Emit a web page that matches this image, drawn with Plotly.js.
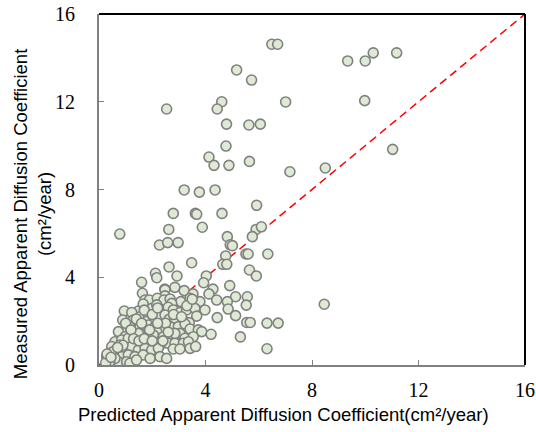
<!DOCTYPE html>
<html>
<head>
<meta charset="utf-8">
<script src="https://cdn.plot.ly/plotly-3.0.1.min.js"></script>
<style>html,body{margin:0;padding:0;background:#fff;}#chart{width:536px;height:432px;}</style>
</head>
<body>
<div id="chart"></div>
<script>
// Predicted (x) and measured (y) apparent diffusion coefficients, cm²/year
const predicted = [
 6.49,6.71,10.30,11.18,9.34,10.00,5.17,5.73,4.61,4.44,2.54,7.01,9.98,
 4.79,5.63,6.06,4.77,4.13,4.32,4.88,5.65,7.17,8.50,11.03,3.20,3.77,4.36,5.92,2.79,3.62,3.67,4.62,
 0.78,2.62,3.88,5.90,6.10,4.82,5.76,2.27,2.58,2.97,4.93,5.01,5.52,5.60,6.34,4.76,3.48,4.65,4.80,
 2.63,5.65,5.91,2.12,2.17,2.93,4.03,3.93,1.60,4.91,4.28,4.13,2.85,3.20,2.47,3.53,5.13,5.57,4.42,
 4.82,5.53,4.85,8.46,4.44,5.13,5.55,5.68,6.31,6.73,5.31,6.31,
 1.63,2.48,2.48,1.73,1.89,2.19,2.44,2.67,3.07,3.42,3.79,2.73,0.95,1.48,1.66,1.98,2.17,2.33,2.60,
 2.79,3.04,3.29,3.60,3.98,3.67,0.89,1.23,1.29,1.54,1.85,1.79,2.10,2.23,2.48,2.63,2.85,3.17,3.39,
 1.04,1.35,1.54,1.85,2.10,2.35,2.67,2.98,3.23,3.42,3.73,3.86,4.21,0.73,0.98,1.29,1.66,1.85,2.17,
 2.42,2.67,3.04,3.23,3.54,0.60,0.85,1.10,1.35,1.60,1.79,2.04,2.29,2.60,2.85,3.17,3.36,0.48,0.66,
 0.98,1.23,1.48,1.73,1.98,2.23,2.79,3.04,3.42,3.63,0.41,0.60,0.85,1.10,1.35,1.66,1.92,2.29,2.54,
 0.35,0.48,0.73,1.04,1.16,1.41,0.29,0.54,0.79,1.16,1.48,2.04,2.85,
 1.00,1.20,1.40,1.70,2.00,2.20,1.90,2.50,2.60,2.80,1.30,0.90,0.70,1.50,1.70,2.00,2.40,2.20,1.60,
 0.60,0.40,0.25,0.30,0.45,3.10,3.30,3.50
];
const measured = [
 14.62,14.62,14.23,14.23,13.86,13.86,13.45,12.99,12.00,11.67,11.67,11.99,12.05,
 10.98,10.94,10.98,9.98,9.48,9.10,9.10,9.28,8.81,8.98,9.83,7.98,7.88,7.98,7.28,6.91,6.91,6.87,6.91,
 5.97,6.18,6.28,6.18,6.30,5.85,5.85,5.47,5.58,5.58,5.48,5.44,5.06,5.06,5.06,4.97,4.66,4.59,4.59,
 4.47,4.33,4.06,4.18,3.98,4.06,4.06,3.75,3.77,3.62,3.46,3.24,3.54,3.39,3.46,3.24,3.11,3.11,2.96,
 2.89,2.73,2.55,2.77,2.16,2.25,1.94,1.94,1.91,1.91,1.28,0.74,
 3.27,3.42,3.15,2.96,2.96,3.04,2.96,3.01,2.89,3.04,2.89,2.81,2.46,2.46,2.78,2.58,2.74,2.51,2.63,
 2.51,2.39,2.51,2.58,2.51,2.23,2.05,2.39,2.05,2.20,2.28,1.98,2.05,2.20,2.28,2.08,2.13,2.02,1.93,
 1.60,1.82,1.75,1.82,1.75,1.64,1.75,1.75,1.87,1.64,1.60,1.52,1.40,1.52,1.29,1.44,1.37,1.32,1.52,
 1.29,1.41,1.44,1.22,1.29,1.06,1.14,1.22,0.99,0.91,1.06,0.99,0.91,0.99,0.99,0.99,1.06,0.84,0.68,
 0.76,0.84,0.68,0.76,0.68,0.76,0.73,0.73,0.76,0.84,0.53,0.41,0.38,0.46,0.38,0.46,0.30,0.38,0.30,
 0.23,0.11,0.15,0.15,0.08,0.23,0.38,0.61,0.91,1.75,1.44,1.37,1.44,
 1.90,1.60,2.10,2.50,2.30,2.60,1.60,1.90,1.50,2.30,1.20,0.90,0.80,1.10,1.20,1.10,1.10,1.90,1.90,
 0.30,0.15,0.10,0.50,0.35,2.20,2.70,3.00
];
const lineX = [0, 16];
const lineY = [0, 16];
const xTicks = [0, 4, 8, 12, 16];
const yTicks = [0, 4, 8, 12, 16];
const xTitle = 'Predicted Apparent Diffusion Coefficient(cm²/year)';
const yTitle = 'Measured Apparent Diffusion Coefficient<br>(cm²/year)';

const traces = [
  {x: lineX, y: lineY, mode: 'lines', type: 'scatter', hoverinfo: 'skip',
   line: {color: '#ff0000', width: 1.5, dash: '8px,5px'}},
  {x: predicted, y: measured, mode: 'markers', type: 'scatter',
   marker: {size: 10, color: '#dfead4', line: {color: '#808080', width: 1.6}}}
];

const tickFont = {family: 'Liberation Serif, Times New Roman, serif', size: 20, color: '#000'};
const titleFont = {family: 'Liberation Sans, Arial, sans-serif', size: 18.5, color: '#000'};

const layout = {
  width: 536, height: 432,
  margin: {l: 99, r: 11, t: 14, b: 67},
  paper_bgcolor: '#fff', plot_bgcolor: '#fff',
  showlegend: false,
  xaxis: {
    range: [0, 16], tickvals: xTicks, ticktext: xTicks.map(String),
    showgrid: false, zeroline: false, showline: true, linecolor: '#808080', linewidth: 2,
    ticks: 'inside', ticklen: 5, tickcolor: '#808080', tickwidth: 1,
    tickfont: tickFont, ticklabelstandoff: 6
  },
  yaxis: {
    range: [0, 16], tickvals: yTicks, ticktext: yTicks.map(String),
    showgrid: false, zeroline: false, showline: true, linecolor: '#808080', linewidth: 2,
    ticks: 'inside', ticklen: 5, tickcolor: '#808080', tickwidth: 1,
    tickfont: tickFont, ticklabelstandoff: 18
  },
  annotations: [
    {text: xTitle, xref: 'paper', yref: 'paper', x: 0.434, y: -0.142,
     xanchor: 'center', yanchor: 'middle', showarrow: false, font: titleFont},
    {text: yTitle, xref: 'paper', yref: 'paper', x: -0.157, y: 0.43, textangle: -90,
     xanchor: 'center', yanchor: 'middle', showarrow: false, font: titleFont}
  ],
  shapes: [
    {type: 'line', xref: 'paper', yref: 'paper', x0: 0, x1: 1, y0: 1, y1: 1, line: {color: '#000', width: 2}},
    {type: 'line', xref: 'paper', yref: 'paper', x0: 1, x1: 1, y0: 0, y1: 1, line: {color: '#000', width: 2}}
  ]
};

Plotly.newPlot('chart', traces, layout, {displayModeBar: false, staticPlot: true});
</script>
</body>
</html>
